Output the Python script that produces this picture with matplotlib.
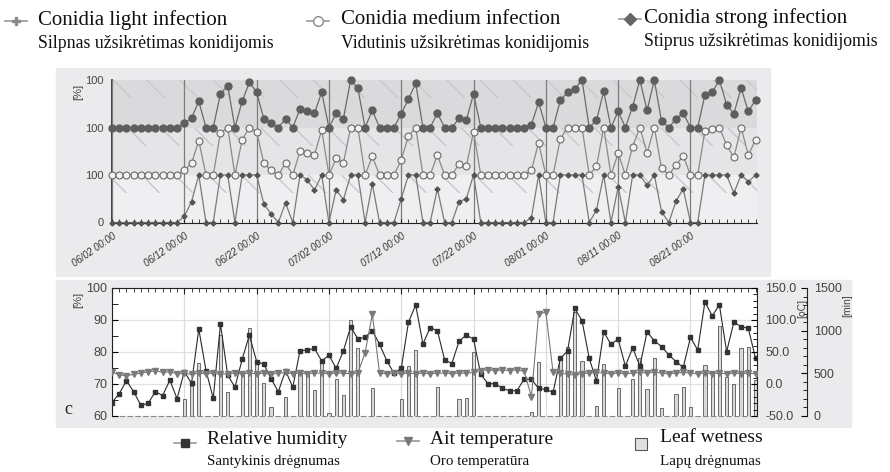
import matplotlib
matplotlib.use("Agg")
import matplotlib.pyplot as plt
from matplotlib.lines import Line2D
from matplotlib.patches import Rectangle
import numpy as np

# ── data: one value per day, 06/02 .. 08/30 ─────────────────────────────
light = [0, 0, 0, 0, 0, 0, 0, 0, 0, 0,
         13, 44, 100, 0, 0, 100, 100, 0, 100, 100,
         100, 39, 18, 0, 41, 0, 100, 90, 68, 100,
         0, 69, 48, 100, 100, 0, 81, 0, 0, 0,
         50, 100, 100, 0, 0, 71, 0, 0, 44, 50,
         100, 0, 0, 0, 0, 0, 0, 0, 10, 100,
         0, 0, 100, 100, 100, 100, 0, 26, 100, 0,
         75, 0, 100, 100, 78, 100, 23, 0, 45, 71,
         0, 0, 100, 100, 100, 100, 62, 100, 86, 100]
medium = [0, 0, 0, 0, 0, 0, 0, 0, 0, 0,
          10, 25, 72, 0, 0, 89, 100, 0, 74, 100,
          91, 25, 10, 0, 25, 0, 50, 47, 42, 95,
          0, 35, 25, 100, 100, 0, 39, 0, 0, 0,
          32, 82, 100, 0, 0, 42, 0, 0, 23, 18,
          91, 0, 0, 0, 0, 0, 0, 0, 10, 68,
          0, 0, 76, 100, 100, 100, 0, 18, 100, 0,
          46, 0, 60, 100, 46, 100, 14, 0, 21, 40,
          0, 0, 93, 96, 100, 63, 37, 100, 42, 74]
strong = [0, 0, 0, 0, 0, 0, 0, 0, 0, 0,
          9, 20, 55, 0, 0, 71, 88, 0, 55, 95,
          74, 18, 9, 0, 18, 0, 39, 35, 30, 74,
          0, 30, 18, 100, 83, 0, 36, 0, 0, 0,
          29, 60, 93, 0, 0, 30, 0, 0, 19, 15,
          71, 0, 0, 0, 0, 0, 0, 0, 6, 53,
          0, 0, 57, 74, 81, 100, 0, 15, 76, 0,
          34, 0, 44, 100, 36, 100, 13, 0, 18, 30,
          0, 0, 69, 74, 100, 48, 29, 83, 34, 58]

humidity = [64.2, 67, 71, 67.6, 63.3, 64, 67.6, 66.4, 71.2, 65.4,
            73.9, 70.2, 87.2, 74.2, 65.5, 88.7, 72.8, 69, 77.7, 85.3,
            77, 76.2, 71.6, 67.6, 74.2, 69, 80.4, 80.6, 81.1, 77.2,
            79, 74.9, 80.3, 87.9, 84.1, 84.6, 86.7, 82.4, 77.3, 73.3,
            74.9, 89.3, 94.7, 82.5, 87.6, 86.7, 77.5, 76.4, 83.4, 85.3,
            84, 73, 70.1, 70.1, 68.6, 67.9, 67.9, 71.5, 71.5, 68.6,
            68.3, 67.4, 78, 80.3, 93.6, 89.8, 78, 70.9, 86.3, 82.4,
            84, 75.6, 81.3, 75.6, 86.3, 83.5, 81.7, 79.1, 77, 75.2,
            84.6, 80.6, 95.7, 91.3, 94.7, 80.1, 89.3, 87.9, 87.4, 78]
temperature = [19, 14, 13, 15, 17, 19, 21, 18, 19, 16,
               17, 15, 17, 16, 17, 15, 16, 17, 16, 17,
               16, 17, 15, 17, 18, 16, 17, 16, 17, 17,
               16, 17, 17, 16, 17, 49, 109, 17, 16, 17,
               16, 17, 16, 17, 16, 17, 17, 16, 17, 17,
               18, 21, 22, 21, 22, 21, 22, 20, -20, 110,
               112, 18, 17, 15, 14, 16, 17, 18, 17, 16,
               17, 16, 17, 18, 17, 19, 17, 16, 17, 18,
               17, 16, 17, 16, 17, 16, 17, 16, 17, 16]
leaf_wetness = [0, 0, 0, 0, 0, 0, 0, 0, 0, 0,
                199, 355, 625, 0, 0, 949, 277, 0, 500, 1028,
                617, 390, 109, 0, 219, 0, 539, 508, 305, 617,
                31, 434, 246, 1125, 793, 0, 324, 0, 0, 0,
                199, 586, 773, 0, 0, 344, 0, 0, 199, 207,
                754, 0, 0, 0, 0, 0, 0, 0, 51, 629,
                0, 0, 676, 812, 1215, 645, 0, 117, 605, 0,
                324, 0, 430, 683, 313, 676, 90, 0, 254, 344,
                102, 0, 598, 519, 1058, 461, 375, 793, 812, 422]

date_ticks = [0, 10, 20, 30, 40, 50, 60, 70, 80]
date_labels = ["06/02 00:00", "06/12 00:00", "06/22 00:00", "07/02 00:00",
               "07/12 00:00", "07/22 00:00", "08/01 00:00", "08/11 00:00",
               "08/21 00:00"]
band_labels = ["0", "100", "100", "100"]

SERIF = "Liberation Serif"
SANS = "Liberation Sans"
PANEL = "#ebebee"

days = np.arange(len(light))

fig = plt.figure(figsize=(8.9, 4.72), dpi=100)
W, H = 890, 472


def fx(px):
    return px / W


def fy(py):
    return 1 - py / H


# grey panels behind the two charts
fig.add_artist(Rectangle((fx(56), fy(276)), fx(714), 208 / H,
                         transform=fig.transFigure, color=PANEL, zorder=0))
fig.add_artist(Rectangle((fx(56), fy(427)), fx(795), 147 / H,
                         transform=fig.transFigure, color=PANEL, zorder=0))

# ── top chart: three stacked 0-100 bands ────────────────────────────────
ax = fig.add_axes([fx(112), fy(222.5), fx(645), 142.5 / H])
ax.set_xlim(0, 89.2)
ax.set_ylim(0, 300)
ax.patch.set_visible(False)
for lo, col in [(0, "#efeff2"), (100, "#e5e5e8"), (200, "#dadadd")]:
    ax.axhspan(lo, lo + 100, color=col, zorder=0, lw=0)
    ax.axhspan(lo + 62, lo + 100, facecolor="none", edgecolor="#c8c8cc",
               hatch="\\", lw=0, zorder=0.5)

ax.plot(days, light, color="#7a7a7a", lw=0.9, marker="P", ms=3.2,
        mfc="#555555", mec="#555555", clip_on=False, zorder=3)
ax.plot(days, np.array(medium) + 100, color="#8a8a8a", lw=0.9, marker="o",
        ms=5, mfc="#f2f2f2", mec="#6a6a6a", mew=0.8, clip_on=False, zorder=3)
ax.plot(days, np.array(strong) + 200, color="#6a6a6a", lw=0.9, marker="o",
        ms=5, mfc="#5e5e5e", mec="#5e5e5e", clip_on=False, zorder=3)

ax.set_xticks(date_ticks)
ax.set_xticks(days, minor=True)
ax.set_xticklabels(date_labels, rotation=35, ha="right", rotation_mode="anchor",
                   fontsize=7, style="italic", color="#333333", family=SANS)
ax.tick_params(axis="x", which="both", direction="in", length=3, color="#222222",
               pad=6)
ax.grid(axis="x", color="#7c7c7c", lw=0.9, zorder=1)
ax.set_axisbelow(False)
ax.set_yticks([0, 100, 200, 300])
ax.set_yticklabels(band_labels, fontsize=8, color="#444444", family=SANS)
ax.tick_params(axis="y", length=0, pad=6)
for s in ["top", "right"]:
    ax.spines[s].set_visible(False)
ax.spines["left"].set_color("#222222")
ax.spines["bottom"].set_color("#222222")
ax.spines["left"].set_linewidth(1.2)
fig.text(fx(78), fy(92), "[%]", rotation=90, ha="center", va="center",
         fontsize=8, color="#444444", family=SANS)

# ── bottom chart: weather ───────────────────────────────────────────────
axm = fig.add_axes([fx(112), fy(416), fx(645), 128 / H])
axh = axm.twinx()
axt = axm.twinx()
axm.set_zorder(1)
axh.set_zorder(2)
axt.set_zorder(3)
axm.patch.set_facecolor("white")
axh.patch.set_visible(False)
axt.patch.set_visible(False)

axm.bar(days, leaf_wetness, width=0.45, color="#d9d9d9", edgecolor="#555555",
        lw=0.6, zorder=2)
axm.set_ylim(0, 1500)
axm.set_xlim(0, 89.2)
axh.set_xlim(0, 89.2)
axt.set_xlim(0, 89.2)

axh.plot(days, humidity, color="#2a2a2a", lw=0.8, marker="s", ms=3.5,
         mfc="#333333", mec="#333333", zorder=3)
axh.set_ylim(60, 100)
axt.plot(days, temperature, color="#777777", lw=0.8, marker="v", ms=4,
         mfc="#7a7a7a", mec="#7a7a7a", zorder=3)
axt.set_ylim(-50, 150)

# grid on the base axes
axm.set_xticks(date_ticks)
axm.set_xticks(days, minor=True)
axm.grid(axis="x", which="major", color="#dcdcdc", lw=0.9)
for v in [70, 80, 90]:
    axm.axhline(v * 37.5 - 2250, color="#e2e2e2", lw=0.9, zorder=1)
axm.tick_params(axis="x", which="both", top=True, bottom=False, direction="in",
                labelbottom=False, length=3, color="#222222")
axm.tick_params(axis="x", which="major", length=4)

# humidity axis on the left
axh.yaxis.tick_left()
axh.set_yticks([60, 70, 80, 90, 100])
axh.set_yticks([65, 75, 85, 95], minor=True)
axh.tick_params(axis="y", which="both", direction="in", labelsize=9,
                labelcolor="#444444", length=4, left=True, right=False)
axh.tick_params(axis="x", which="both", bottom=False, top=False,
                labelbottom=False)
for t in axh.get_yticklabels():
    t.set_family(SANS)

# temperature axis, right spine
axt.set_yticks([-50, 0, 50, 100, 150])
axt.set_yticks(np.arange(-50, 151, 10), minor=True)
axt.set_yticklabels([f"{v:.1f}" for v in [-50, 0, 50, 100, 150]])
axt.tick_params(axis="y", which="both", direction="in", labelsize=9,
                labelcolor="#444444", length=4, pad=6)
axt.tick_params(axis="y", which="minor", length=3)
for t in axt.get_yticklabels():
    t.set_family(SANS)

# leaf wetness axis, moved out to the right
axm.yaxis.tick_right()
axm.spines["right"].set_position(("outward", 36))
axm.set_yticks([0, 500, 1000, 1500])
axm.set_yticks(np.arange(0, 1501, 100), minor=True)
axm.tick_params(axis="y", which="both", direction="in", labelsize=9,
                labelcolor="#444444", length=4, pad=5, left=False, labelleft=False)
axm.tick_params(axis="y", which="minor", length=3)
for t in axm.get_yticklabels():
    t.set_family(SANS)

for a in [axm, axh, axt]:
    for s in a.spines.values():
        s.set_color("#222222")
axm.spines["bottom"].set_linestyle((0, (4, 3)))
axm.spines["bottom"].set_color("#888888")
axh.spines["bottom"].set_visible(False)
axt.spines["bottom"].set_visible(False)
axm.spines["left"].set_visible(False)
axt.spines["left"].set_visible(False)
axh.spines["right"].set_visible(False)
axm.spines["top"].set_visible(False)
axt.spines["top"].set_visible(False)

fig.text(fx(78), fy(300), "[%]", rotation=90, ha="center", va="center",
         fontsize=8, color="#444444", family=SANS)
fig.text(fx(802), fy(308), "[oC]", rotation=90, ha="center", va="center",
         fontsize=7.5, color="#444444", family=SANS)
fig.text(fx(847), fy(306), "[min]", rotation=90, ha="center", va="center",
         fontsize=7.5, color="#444444", family=SANS)
fig.text(fx(68), fy(410), "c", ha="center", va="center", fontsize=13,
         family=SERIF, color="#222222")


# ── legends (figure text) ───────────────────────────────────────────────
def legend_item(xm, ym, xt, line1, line2, y1, y2, fs1, fs2, **mk):
    fig.add_artist(Line2D([fx(xm - 11), fx(xm + 11)], [fy(ym), fy(ym)],
                          transform=fig.transFigure, lw=1.2, color="#9a9a9a"))
    fig.add_artist(Line2D([fx(xm)], [fy(ym)], transform=fig.transFigure,
                          lw=0, **mk))
    fig.text(fx(xt), fy(y1), line1, ha="left", va="center", fontsize=fs1,
             family=SERIF, color="#111111")
    fig.text(fx(xt), fy(y2), line2, ha="left", va="center", fontsize=fs2,
             family=SERIF, color="#111111")


legend_item(16, 21, 38, "Conidia light infection",
            "Silpnas užsikrėtimas konidijomis", 20, 44, 15, 12.8,
            marker="P", ms=6, mfc="#8a8a8a", mec="#8a8a8a")
legend_item(318, 21, 341, "Conidia medium infection",
            "Vidutinis užsikrėtimas konidijomis", 20, 44, 15, 12.8,
            marker="o", ms=7, mfc="white", mec="#8a8a8a")
legend_item(630, 19, 644, "Conidia strong infection",
            "Stiprus užsikrėtimas konidijomis", 18, 42, 15, 12.8,
            marker="D", ms=6, mfc="#666666", mec="#666666")

legend_item(185, 443, 207, "Relative humidity", "Santykinis drėgnumas",
            440, 462, 14, 10.8,
            marker="s", ms=6, mfc="#333333", mec="#333333")
legend_item(408, 441, 430, "Ait temperature", "Oro temperatūra",
            439, 462, 14, 10.8,
            marker="v", ms=6, mfc="#777777", mec="#777777")
fig.add_artist(Line2D([fx(641)], [fy(444)], transform=fig.transFigure, lw=0,
                      marker="s", ms=8, mfc="#e0e0e0", mec="#555555", mew=0.8))
fig.text(fx(660), fy(438), "Leaf wetness", ha="left", va="center",
         fontsize=14, family=SERIF, color="#111111")
fig.text(fx(660), fy(462), "Lapų drėgnumas", ha="left", va="center",
         fontsize=10.8, family=SERIF, color="#111111")

fig.savefig("out.png", dpi=100)
